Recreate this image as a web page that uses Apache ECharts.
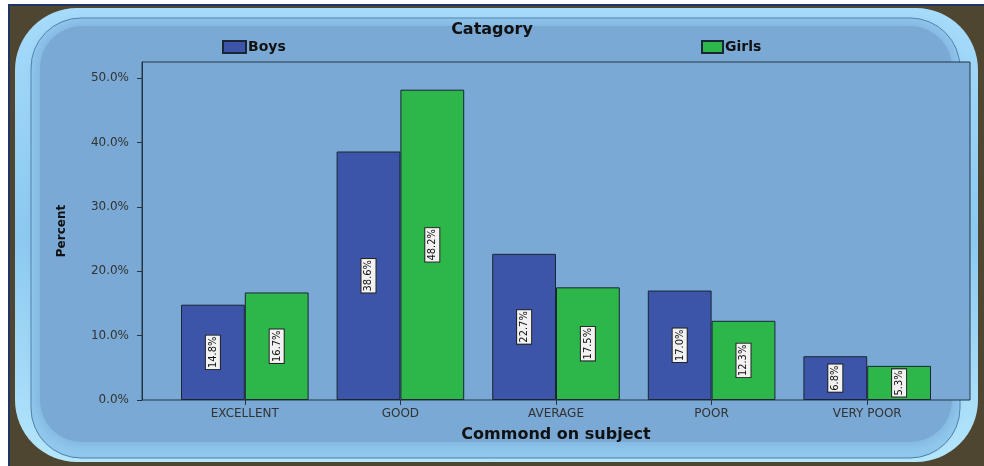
<!DOCTYPE html>
<html>
<head>
<meta charset="utf-8">
<script src="https://cdn.jsdelivr.net/npm/echarts@6/dist/echarts.min.js"></script>
<style>html,body{margin:0;padding:0;background:#fff}#c{width:984px;height:466px}</style>
</head>
<body>
<div id="c"></div>
<script>
const categories = ['EXCELLENT', 'GOOD', 'AVERAGE', 'POOR', 'VERY POOR'];
const boys = [14.8, 38.6, 22.7, 17.0, 6.8];
const girls = [16.7, 48.2, 17.5, 12.3, 5.3];
const seriesNames = ['Boys', 'Girls'];
const yMax = 52.5;

const chart = echarts.init(document.getElementById('c'), null, {renderer: 'canvas'});
const F = 'DejaVu Sans';
const barLabel = {
  show: true,
  position: 'inside',
  rotate: 90,
  formatter: p => p.value.toFixed(1) + '%',
  fontFamily: 'DejaVu Sans Condensed',
  fontSize: 11,
  color: '#111',
  backgroundColor: '#f2f2f2',
  borderColor: '#222',
  borderWidth: 1,
  padding: [2, 1, 1, 1]
};
chart.setOption({
  animation: false,
  graphic: [
    {type: 'rect', z: -10, shape: {x: 0, y: 0, width: 984, height: 466}, style: {fill: '#ffffff'}},
    {type: 'rect', z: -10, shape: {x: 9, y: 5, width: 980, height: 470}, style: {fill: '#4f4632', stroke: '#1f3566', lineWidth: 2}},
    {type: 'rect', z: -9, shape: {x: 15, y: 8, width: 963, height: 454, r: 62},
      style: {fill: new echarts.graphic.LinearGradient(0, 0, 0, 1, [
        {offset: 0, color: '#a6dcfb'}, {offset: 0.5, color: '#8cc8f0'}, {offset: 1, color: '#b4e6fc'}])}},
    {type: 'rect', z: -8, shape: {x: 31, y: 18, width: 929, height: 440, r: 50},
      style: {fill: '#90c8ee', stroke: '#4f7ea6', lineWidth: 1}},
    {type: 'rect', z: -7, shape: {x: 40, y: 26, width: 912, height: 416, r: 42},
      style: {fill: '#79a9d4', shadowBlur: 14, shadowColor: '#79a9d4'}}
  ],
  title: {
    text: 'Catagory', left: 'center', top: 17,
    textStyle: {fontFamily: F, fontSize: 16, fontWeight: 'bold', color: '#111'}
  },
  legend: [
    {data: ['Boys'], left: 222, top: 40, padding: 0, icon: 'rect', itemWidth: 23, itemHeight: 12, itemGap: 4,
      textStyle: {fontFamily: F, fontSize: 14, fontWeight: 'bold', color: '#111', padding: [0, 0, 0, -3]}},
    {data: ['Girls'], left: 701, top: 40, padding: 0, icon: 'rect', itemWidth: 21, itemHeight: 12, itemGap: 4,
      textStyle: {fontFamily: F, fontSize: 14, fontWeight: 'bold', color: '#111', padding: [0, 0, 0, -3]}}
  ],
  grid: [
    {left: 142, right: 14, top: 62, bottom: 66, show: true, borderColor: '#253545', borderWidth: 1, backgroundColor: '#79a9d4'},
    {left: 167, right: 39, top: 62, bottom: 66}
  ],
  xAxis: [
    {gridIndex: 0, type: 'value', show: false, min: 0, max: 1},
    {gridIndex: 1, type: 'category', data: categories,
      axisLine: {show: false},
      axisTick: {show: true, alignWithLabel: true, length: 5, lineStyle: {color: '#253545'}},
      axisLabel: {fontFamily: F, fontSize: 12, color: '#333', margin: 8},
      name: 'Commond on subject', nameLocation: 'middle', nameGap: 27,
      nameTextStyle: {fontFamily: F, fontSize: 16, fontWeight: 'bold', color: '#111'}}
  ],
  yAxis: [
    {gridIndex: 0, type: 'value', min: 0, max: yMax, interval: 10,
      axisLine: {show: true, lineStyle: {color: '#253545'}},
      axisTick: {show: true, length: 5, lineStyle: {color: '#253545'}},
      axisLabel: {fontFamily: F, fontSize: 12, color: '#333', margin: 13, showMaxLabel: false,
        formatter: v => v.toFixed(1) + '%'},
      splitLine: {show: false},
      name: 'Percent', nameLocation: 'middle', nameGap: 74,
      nameTextStyle: {fontFamily: F, fontSize: 12, fontWeight: 'bold', color: '#111'}},
    {gridIndex: 1, type: 'value', min: 0, max: yMax, show: false}
  ],
  series: [
    {name: seriesNames[0], type: 'bar', xAxisIndex: 1, yAxisIndex: 1, data: boys,
      barGap: '0%', barCategoryGap: '18%',
      itemStyle: {color: '#3c55a8', borderColor: '#1a2535', borderWidth: 1},
      label: barLabel},
    {name: seriesNames[1], type: 'bar', xAxisIndex: 1, yAxisIndex: 1, data: girls,
      barGap: '0%', barCategoryGap: '18%',
      itemStyle: {color: '#2db74b', borderColor: '#1a2535', borderWidth: 1},
      label: barLabel}
  ]
});
</script>
</body>
</html>
